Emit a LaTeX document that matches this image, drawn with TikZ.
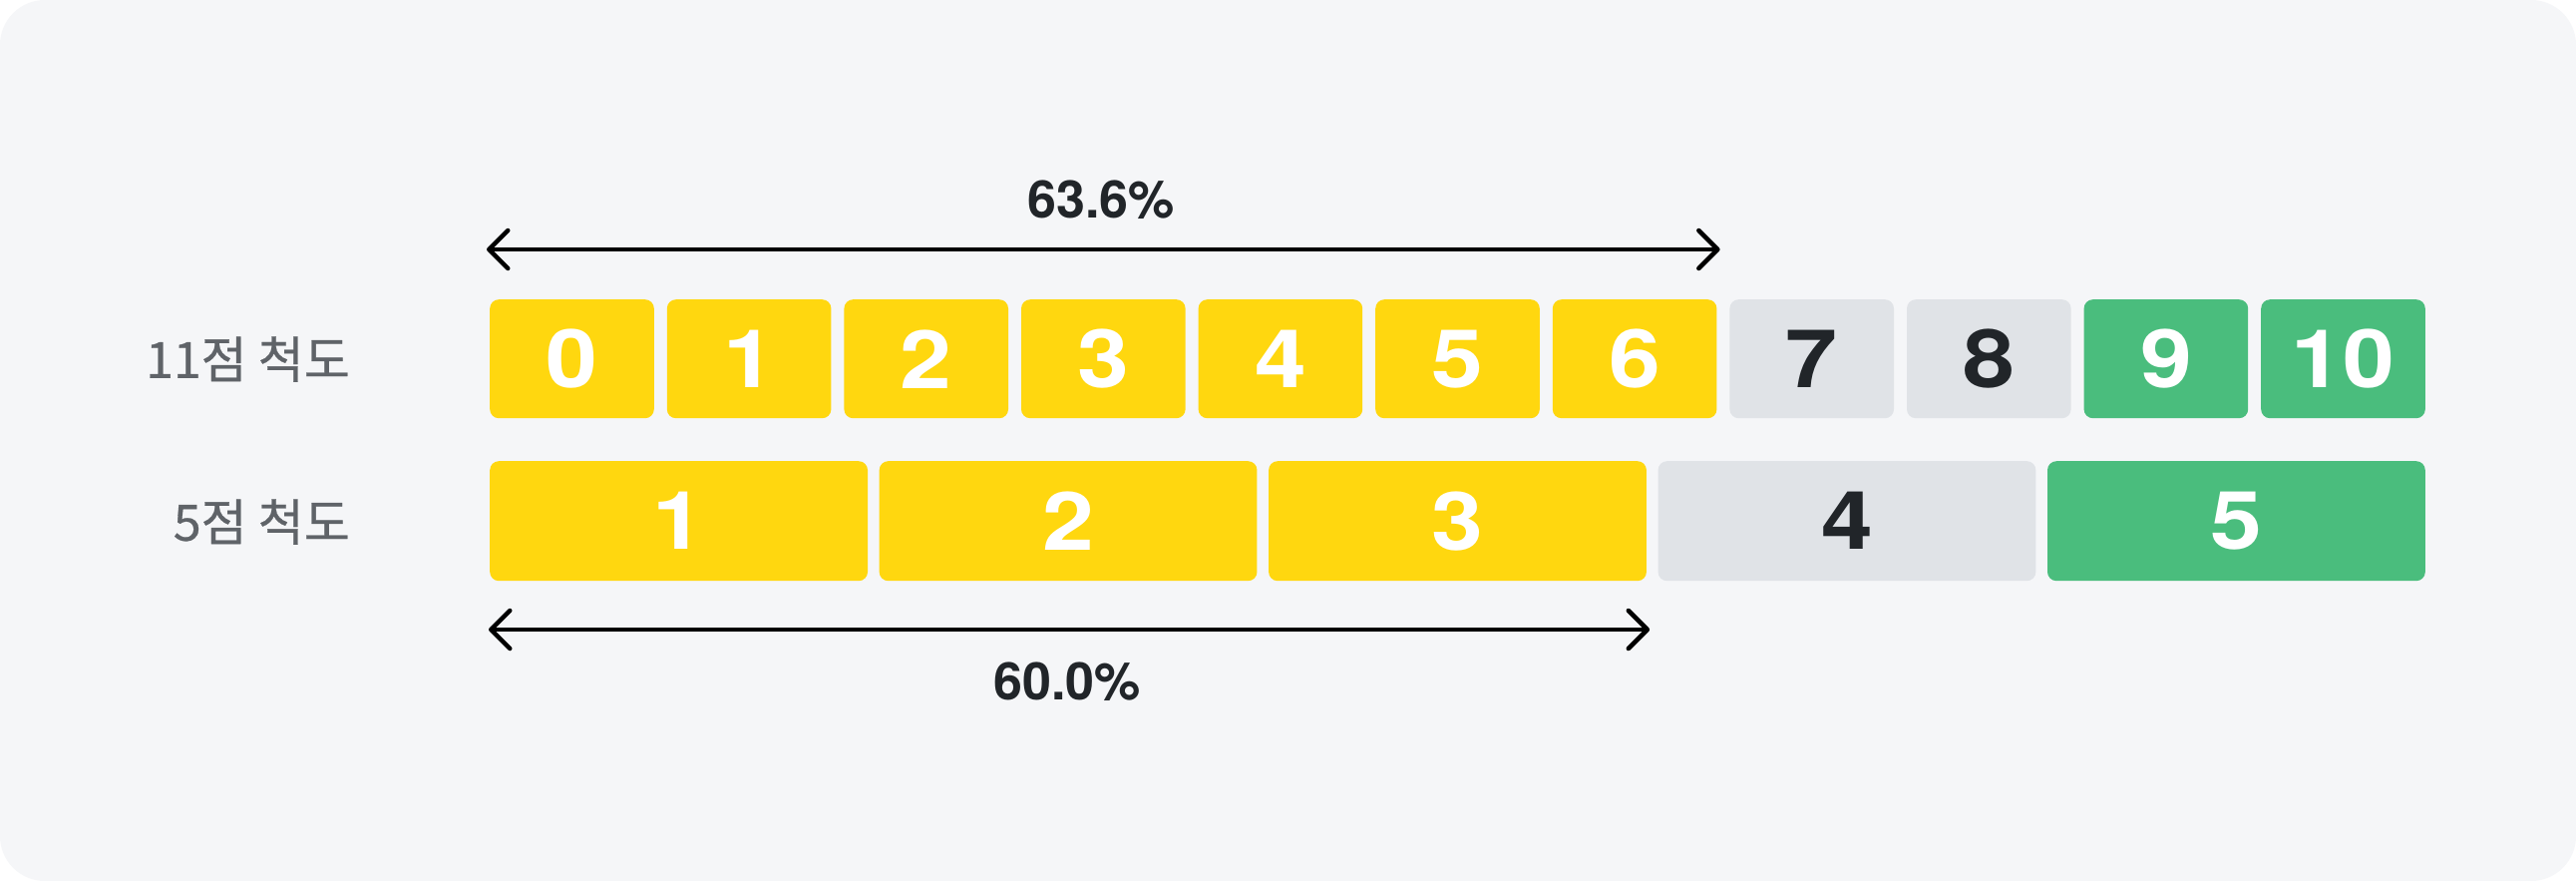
\documentclass[tikz,border=0pt]{standalone}
\usepackage{fontspec}
\setmainfont{TeX Gyre Heros}
\newfontfamily\numfont{TeX Gyre Heros}[FakeStretch=1.15]
\newfontfamily\pctfont{TeX Gyre Heros}[FakeStretch=1.0]
\newfontfamily\krfont{Noto Sans CJK KR}[FakeBold=0.6]
\usetikzlibrary{arrows.meta}
\definecolor{bgc}{HTML}{F5F6F8}
\definecolor{ylw}{HTML}{FFD70F}
\definecolor{grn}{HTML}{4ABD7D}
\definecolor{gry}{HTML}{E0E3E7}
\definecolor{ink}{HTML}{212529}
\definecolor{lblc}{HTML}{5F6368}
\begin{document}
\begin{tikzpicture}[x=1pt,y=-1pt,
  cell/.style={anchor=north west, inner sep=0pt, rounded corners=9pt, minimum height=119pt,
     font=\numfont\bfseries\fontsize{81}{81}\selectfont},
  smallcell/.style={cell, minimum width=164.6pt},
  bigcell/.style={cell, minimum width=378.8pt, minimum height=120pt},
  rowlabel/.style={anchor=east, inner sep=0pt, text=lblc, font=\krfont\fontsize{50}{50}\selectfont},
  pct/.style={inner sep=0pt, text=ink, font=\pctfont\bfseries\fontsize{52}{52}\selectfont},
  dimarrow/.style={line width=4.5pt, line cap=round,
     {Straight Barb[length=19pt,width=38pt,line cap=round,line join=round]}-{Straight Barb[length=19pt,width=38pt,line cap=round,line join=round]}}
]
\fill[white] (0,0) rectangle (2583,883);
\fill[bgc, rounded corners=45pt] (0,0) rectangle (2583,883);
\useasboundingbox (0,0) rectangle (2583,883);

% 11-point scale
\foreach \i/\fc/\tc in {0/ylw/white,1/ylw/white,2/ylw/white,3/ylw/white,4/ylw/white,5/ylw/white,6/ylw/white,7/gry/ink,8/gry/ink,9/grn/white,10/grn/white}{
  \node[smallcell, fill=\fc, text=\tc] (t\i) at ({491+177.6*\i},300) {\i};
}
% 5-point scale
\foreach \i/\fc/\tc in {1/ylw/white,2/ylw/white,3/ylw/white,4/gry/ink,5/grn/white}{
  \node[bigcell, fill=\fc, text=\tc] (b\i) at ({491+390.45*(\i-1)},462) {\i};
}

\node[rowlabel] (l11) at (351,360) {11점 척도};
\node[rowlabel] (l5) at (351,523) {5점 척도};

\coordinate (a1) at ([xshift=-3pt]t0.west |- 0,250);
\coordinate (a2) at ([xshift=3pt]t6.east |- 0,250);
\draw[dimarrow] (a1) -- (a2);
\node[pct] (p1) at (1104,200) {63.6\%};

\coordinate (c1) at ([xshift=-1pt]b1.west |- 0,631);
\coordinate (c2) at ([xshift=3pt]b3.east |- 0,631);
\draw[dimarrow] (c1) -- (c2);
\node[pct] (p2) at (1070,683) {60.0\%};
\end{tikzpicture}
\end{document}
